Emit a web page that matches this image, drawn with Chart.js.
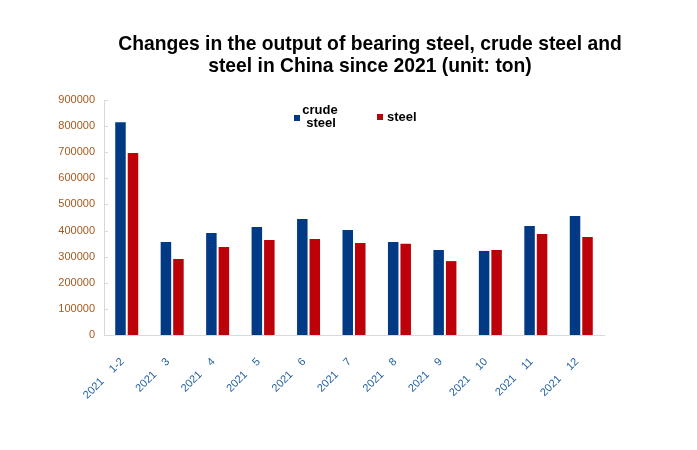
<!DOCTYPE html>
<html>
<head>
<meta charset="utf-8">
<script src="https://cdn.jsdelivr.net/npm/chart.js@4"></script>
<style>
  html, body { margin: 0; padding: 0; background: #ffffff; }
  #wrap { width: 697px; height: 450px; }
</style>
</head>
<body>
<div id="wrap"><canvas id="c" width="697" height="450"></canvas></div>
<script>
const titleLines = ['Changes in the output of bearing steel, crude steel and', 'steel in China since 2021 (unit: ton)'];
const year = '2021';
const months = ['1-2', '3', '4', '5', '6', '7', '8', '9', '10', '11', '12'];
const categories = months.map(m => year + '    ' + m + '  ');
const seriesNames = ['crude steel', 'steel'];
const crudeSteel = [815000, 356000, 391000, 414000, 444000, 402000, 356000, 326000, 322000, 417000, 456000];
const steel = [697000, 291000, 337000, 364000, 368000, 352000, 349000, 283000, 326000, 387000, 375000];
const yTicks = { min: 0, max: 900000, step: 100000 };

const BLUE = '#003A84';
const RED = '#BE0008';
const AXIS = '#D9D9D9';
const FONT = "'Liberation Sans', Arial, sans-serif";

const extras = {
  id: 'extras',
  afterDraw(chart) {
    const ctx = chart.ctx;
    const ys = chart.scales.y;
    const ca = chart.chartArea;
    ctx.save();
    // inside tick marks on value axis
    ctx.strokeStyle = AXIS;
    ctx.lineWidth = 1;
    ys.ticks.forEach(t => {
      const py = Math.round(ys.getPixelForValue(t.value)) + 0.5;
      ctx.beginPath();
      ctx.moveTo(ca.left, py);
      ctx.lineTo(ca.left + 4, py);
      ctx.stroke();
    });
    // legend
    const lx = ca.left + 190, ly = ca.top + 15;
    ctx.fillStyle = BLUE;
    ctx.fillRect(lx, ly, 6, 6);
    ctx.fillStyle = '#000';
    ctx.font = 'bold 13px ' + FONT;
    ctx.textAlign = 'center';
    ctx.textBaseline = 'middle';
    const parts = seriesNames[0].split(' ');
    ctx.fillText(parts[0], lx + 26, ly - 4.5);
    ctx.fillText(parts[1], lx + 27, ly + 8.5);
    ctx.fillStyle = RED;
    ctx.fillRect(lx + 83, ly - 1, 6, 6);
    ctx.fillStyle = '#000';
    ctx.textAlign = 'left';
    ctx.fillText(seriesNames[1], lx + 93, ly + 2.5);
    ctx.restore();
  }
};

new Chart(document.getElementById('c'), {
  type: 'bar',
  data: {
    labels: categories,
    datasets: [
      { label: seriesNames[0], data: crudeSteel, backgroundColor: BLUE, categoryPercentage: 0.55, barPercentage: 0.84 },
      { label: seriesNames[1], data: steel, backgroundColor: RED, categoryPercentage: 0.55, barPercentage: 0.84 }
    ]
  },
  options: {
    responsive: false,
    animation: false,
    layout: { padding: { left: 43, right: 0, top: 0, bottom: 0 } },
    plugins: {
      legend: { display: false },
      tooltip: { enabled: false },
      title: {
        display: true,
        text: titleLines,
        color: '#000',
        font: { family: FONT, size: 19.3, weight: 'bold', lineHeight: '22px' },
        padding: { top: 33.6, bottom: 22.4 }
      }
    },
    scales: {
      x: {
        grid: { display: false },
        border: { display: true, color: AXIS, width: 1 },
        ticks: {
          autoSkip: false, minRotation: 45, maxRotation: 45, padding: 8,
          color: '#1F5F9E', font: { family: FONT, size: 11 }
        },
        afterFit(s) { s.height = 115; }
      },
      y: {
        min: yTicks.min, max: yTicks.max,
        grid: { display: false },
        border: { display: true, color: AXIS, width: 1 },
        ticks: {
          stepSize: yTicks.step, padding: 1, color: '#A65A1E', font: { family: FONT, size: 11 },
          callback: v => String(v)
        },
        afterFit(s) { s.width = 61; }
      },
      y2: {
        position: 'right',
        display: true,
        grid: { display: false },
        border: { display: false },
        ticks: { display: false },
        afterFit(s) { s.width = 93; }
      }
    }
  },
  plugins: [extras]
});
</script>
</body>
</html>
